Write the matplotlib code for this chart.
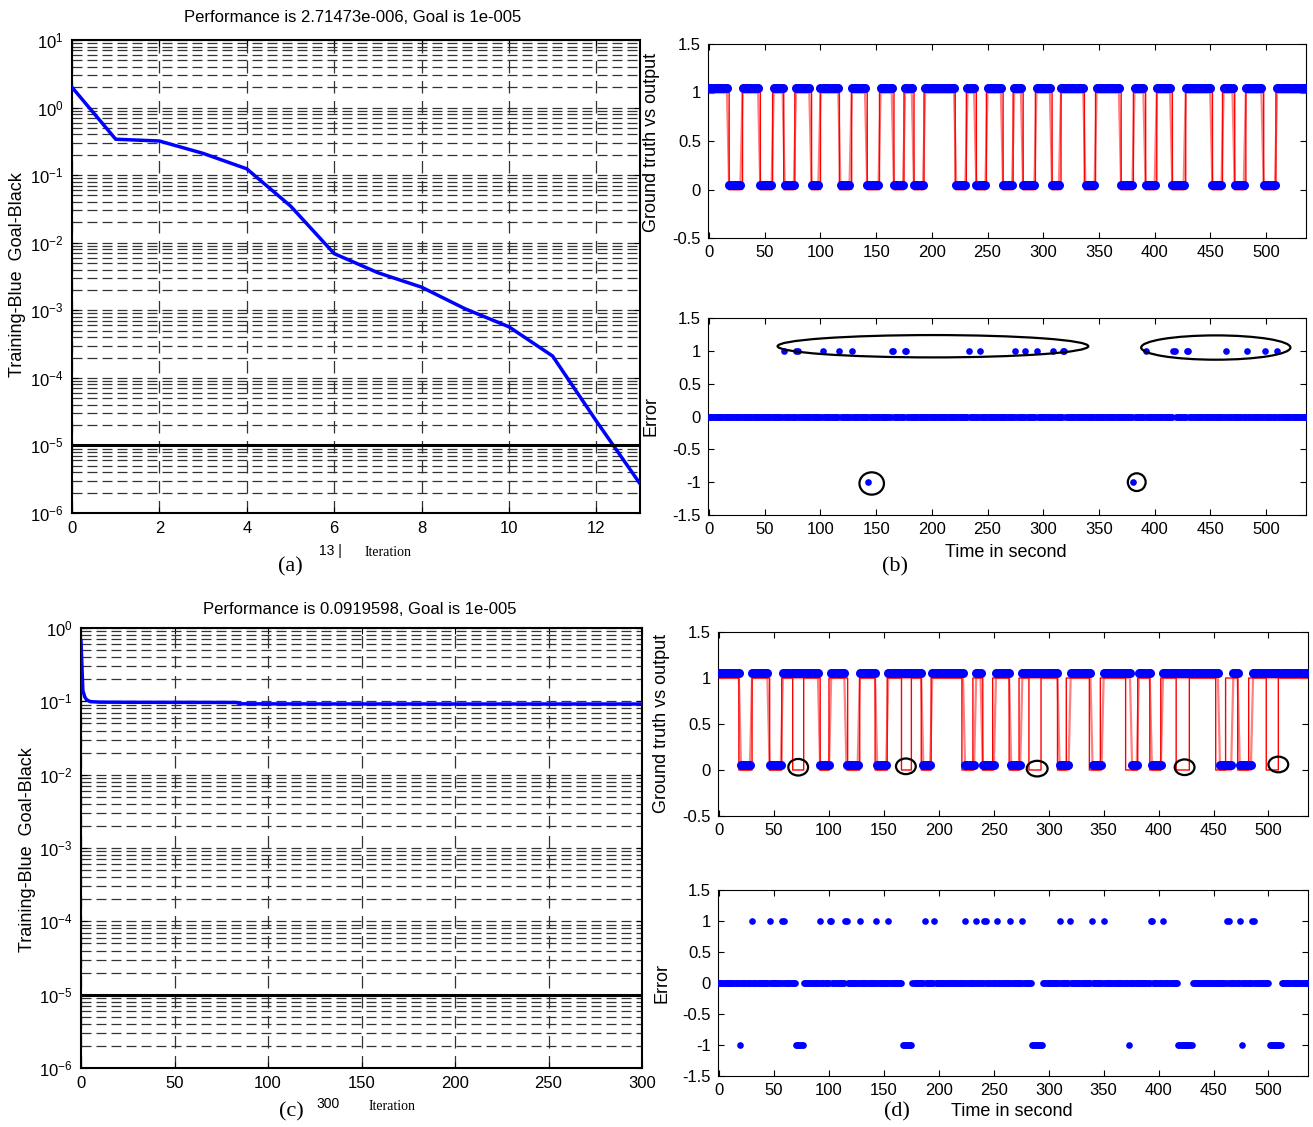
import numpy as np
import matplotlib
matplotlib.use("Agg")
import matplotlib.pyplot as plt
from matplotlib.patches import Ellipse

plt.rcParams['font.family'] = ['Liberation Sans', 'DejaVu Sans']

# --- data ---
# (a) training performance, 13 iterations
a_epoch = [0, 1, 2, 3, 4, 5, 6, 7, 8, 9, 10, 11, 12, 13]
a_perf = [2.0, 0.34, 0.32, 0.21, 0.124, 0.035, 6.9e-3, 3.6e-3, 2.2e-3,
          1.05e-3, 5.7e-4, 2.1e-4, 2.3e-5, 2.71473e-6]

# (c) training performance, 300 iterations
c_epoch = [0, 1, 2, 3, 5, 10, 30, 60, 83, 85, 120, 200, 300]
c_perf = [0.65, 0.14, 0.115, 0.105, 0.099, 0.0975, 0.097, 0.0968,
          0.0965, 0.0925, 0.0922, 0.092, 0.0919598]

goal = 1e-5

# time axis (seconds) and intervals where the signals are at 0
t_end = 536
gt_low = [(18, 29), (46, 56), (67, 76), (92, 99), (117, 127), (142, 152),
          (166, 174), (184, 192), (221, 230), (240, 248), (264, 272),
          (282, 292), (308, 315), (337, 346), (370, 380), (392, 401),
          (416, 427), (452, 460), (472, 481), (498, 508)]
b_out_low = gt_low
d_out_low = [(20, 28), (45, 56), (91, 100), (115, 126), (143, 152),
             (185, 193), (223, 232), (240, 251), (265, 274), (310, 318),
             (339, 348), (375, 381), (393, 403), (456, 466), (473, 484)]

# error samples (+1 / -1), everything else is 0
b_err_pos = [67, 78, 80, 102, 117, 128, 164, 165, 176, 177, 233, 243, 275,
             284, 294, 309, 318, 319, 392, 417, 418, 429, 430, 464, 483,
             499, 510]
b_err_neg = [143, 381]
d_err_pos = [30, 46, 57, 59, 92, 101, 102, 115, 116, 128, 143, 154, 187,
             196, 224, 234, 241, 243, 253, 265, 276, 310, 319, 339, 350,
             393, 394, 404, 462, 464, 474, 485, 487]
d_err_neg = [19, 70, 71, 72, 73, 74, 75, 76, 167, 168, 169, 170, 171, 172,
             173, 174, 175, 285, 286, 287, 288, 289, 290, 291, 292, 293, 294,
             373, 418, 419, 420, 421, 422, 423, 424, 425, 426, 427, 428, 429,
             430, 476, 501, 502, 503, 504, 505, 506, 507, 508, 509, 510, 511]

# annotation ellipses (center x, center y, width, height)
b_marks = [(201, 1.07, 279, 0.34), (455, 1.05, 134, 0.37),
           (146, -1.02, 22, 0.34), (384, -1.0, 16, 0.27)]
d_marks = [(72, 0.03, 18, 0.18), (170, 0.04, 18, 0.17),
           (289.5, 0.015, 19, 0.17), (423.7, 0.03, 18, 0.17),
           (509, 0.06, 18, 0.17)]

W, H = 1313, 1127
fig = plt.figure(figsize=(W / 100, H / 100), dpi=100)


def box(l, t, r, b):
    return [l / W, 1 - b / H, (r - l) / W, (b - t) / H]


def level(times, lows):
    y = np.ones(len(times))
    for s, e in lows:
        y[(times >= s) & (times <= e)] = 0
    return y


def perf_panel(rect, x, y, xmax, xticks, top_exp):
    ax = fig.add_axes(rect)
    ax.semilogy(x, y, color='#0000ff', lw=2.5, zorder=3)
    ax.axhline(goal, color='black', lw=2.2, zorder=3)
    ax.set_xlim(0, xmax)
    ax.set_ylim(1e-6, 10.0 ** top_exp)
    ax.set_xticks(xticks)
    exps = np.arange(-6, top_exp + 1)
    ax.set_yticks(10.0 ** exps)
    minor = [m * 10.0 ** k for k in exps[:-1] for m in range(2, 10)]
    ax.set_yticks(minor, minor=True)
    ax.set_yticklabels([], minor=True)
    ax.grid(True, which='major', axis='x', color='#333333', ls=(0, (10, 6)), lw=0.9)
    ax.grid(True, which='both', axis='y', color='#333333', ls=(0, (8, 4)), lw=0.9)
    ax.tick_params(which='both', direction='in', top=True, right=True,
                   labelsize=12, length=4, pad=6)
    ax.tick_params(which='minor', length=0)
    for s in ax.spines.values():
        s.set_linewidth(1.5)
    return ax


def signal_panel(rect, out_low, marks):
    ax = fig.add_axes(rect)
    t = np.arange(0, t_end + 1)
    ts = np.arange(0, t_end + 1, 2)
    gt = level(t, gt_low)
    out = level(ts, out_low)
    ax.plot(ts, out, color='#ff8080', lw=1.6, zorder=2)
    ax.plot(t, gt, color='red', lw=1, drawstyle='steps-post', zorder=3)
    ax.plot(ts, out + 0.05, 'o', color='#0000ff', ms=6.5, mec='none', zorder=4)
    for cx, cy, w, h in marks:
        ax.add_patch(Ellipse((cx, cy), w, h, fill=False, ec='black', lw=1.6, zorder=5))
    ax.set_xlim(-1, t_end)
    ax.set_ylim(-0.5, 1.5)
    ax.set_xticks(np.arange(0, 501, 50))
    ax.set_yticks([-0.5, 0, 0.5, 1, 1.5])
    ax.set_yticklabels(['-0.5', '0', '0.5', '1', '1.5'])
    ax.tick_params(direction='in', top=True, right=True, labelsize=12, length=4, pad=5)
    return ax


def error_panel(rect, pos, neg, marks):
    ax = fig.add_axes(rect)
    t = np.arange(0, t_end + 1)
    err = np.zeros(len(t))
    err[pos] = 1
    err[neg] = -1
    ax.plot(t, err, 'o', color='#0000ff', ms=4.8, mec='none', zorder=3)
    for cx, cy, w, h in marks:
        ax.add_patch(Ellipse((cx, cy), w, h, fill=False, ec='black', lw=1.6, zorder=5))
    ax.set_xlim(-1, t_end)
    ax.set_ylim(-1.5, 1.5)
    ax.set_xticks(np.arange(0, 501, 50))
    ax.set_yticks([-1.5, -1, -0.5, 0, 0.5, 1, 1.5])
    ax.set_yticklabels(['-1.5', '-1', '-0.5', '0', '0.5', '1', '1.5'])
    ax.tick_params(direction='in', top=True, right=True, labelsize=12, length=4, pad=5)
    return ax


# (a)
perf_panel(box(72, 40, 640, 513), a_epoch, a_perf, 13, range(0, 13, 2), 1)
# (c)
perf_panel(box(81, 628, 642, 1068), c_epoch, c_perf, 300, range(0, 301, 50), 0)
# (b)
signal_panel(box(708, 44, 1306, 238), b_out_low, [])
error_panel(box(708, 318, 1306, 515), b_err_pos, b_err_neg, b_marks)
# (d)
signal_panel(box(718, 632, 1308, 816), d_out_low, d_marks)
error_panel(box(718, 890, 1308, 1076), d_err_pos, d_err_neg, [])


def ftext(x, y, s, **kw):
    fig.text(x / W, 1 - y / H, s, ha='center', va='center', **kw)


serif = ['Liberation Serif', 'DejaVu Serif']
ftext(353, 17, 'Performance is 2.71473e-006, Goal is 1e-005', fontsize=12)
ftext(360, 609, 'Performance is 0.0919598, Goal is 1e-005', fontsize=12)

ftext(18, 275, 'Training-Blue  Goal-Black', fontsize=13, rotation=90)
ftext(28, 850, 'Training-Blue  Goal-Black', fontsize=13, rotation=90)
ftext(651, 142, 'Ground truth vs output', fontsize=13, rotation=90)
ftext(651, 416, 'Error', fontsize=13, rotation=90)
ftext(662, 723, 'Ground truth vs output', fontsize=13, rotation=90)
ftext(662, 983, 'Error', fontsize=13, rotation=90)

ftext(330, 551, '13 |', fontsize=10)
ftext(388, 553, 'Iteration', fontsize=10, family=serif)
ftext(290, 567, '(a)', fontsize=16, family=serif)
ftext(328, 1104, '300', fontsize=10)
ftext(392, 1106, 'Iteration', fontsize=10, family=serif)
ftext(291, 1112, '(c)', fontsize=16, family=serif)

ftext(1006, 553, 'Time in second', fontsize=13)
ftext(895, 567, '(b)', fontsize=16, family=serif)
ftext(1012, 1112, 'Time in second', fontsize=13)
ftext(897, 1112, '(d)', fontsize=16, family=serif)

fig.savefig('out.png', dpi=100)
